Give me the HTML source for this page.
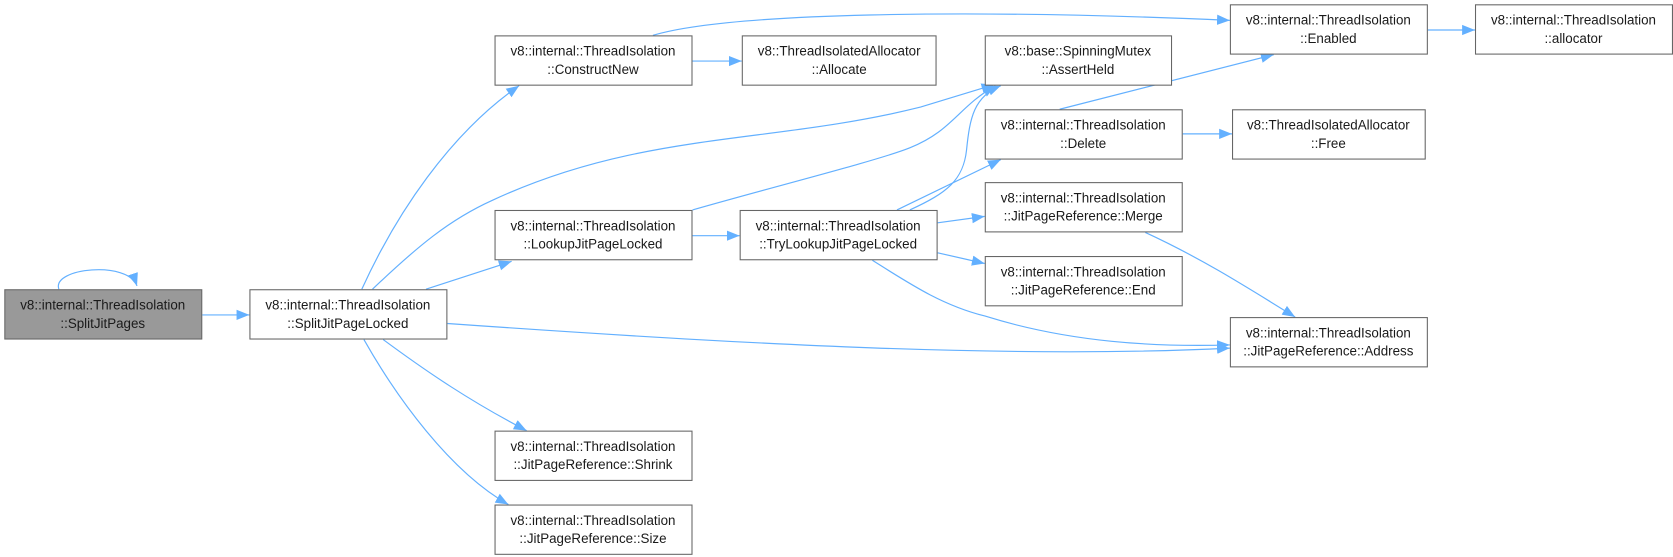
<!DOCTYPE html>
<html><head><meta charset="utf-8"><style>
html,body{margin:0;padding:0;background:#fff;}
svg{display:block;}
text{font-family:"Liberation Sans",sans-serif;font-size:12.5px;fill:#1a1a1a;text-anchor:middle;}
.b{fill:#fff;stroke:#666;stroke-width:1;}
.e{fill:none;stroke:#63b0ff;stroke-width:1.1;}
</style></head><body>
<svg width="1673" height="557" viewBox="0 0 1563 520" preserveAspectRatio="none">
<defs><marker id="a" viewBox="0 0 10 10" refX="10" refY="5" markerWidth="12" markerHeight="12" markerUnits="userSpaceOnUse" orient="auto"><path d="M0,1 L10,5 L0,9 z" fill="#63b0ff"/></marker></defs>
<g class="e" marker-end="url(#a)">
<path d="M55,270 C48,250 120,243 128,267"/>
<path d="M189,294 L233,294"/>
<path d="M338,270 C370,200 420,125 485,80"/>
<path d="M348,270 C390,230 420,205 460,187 C600,122 720,135 860,100 L929,79"/>
<path d="M398,270 L478,244"/>
<path d="M418,302 C700,322 950,335 1149,325"/>
<path d="M358,317 C400,348 440,375 492,402"/>
<path d="M340,317 C370,370 420,440 475,471"/>
<path d="M647,57 L693,57"/>
<path d="M610,33 C680,12 900,8 1149,19"/>
<path d="M1334,28 L1378,28"/>
<path d="M647,196 C720,175 820,150 850,138 C890,122 895,100 930,80"/>
<path d="M647,220 L691,220"/>
<path d="M850,196 C885,180 900,168 903,140 C906,110 910,90 935,80"/>
<path d="M838,196 L935,149"/>
<path d="M876,208 L920,202"/>
<path d="M876,236 L920,246"/>
<path d="M815,243 C850,265 880,285 920,295 C1000,320 1080,324 1149,322"/>
<path d="M990,102 L1190,51"/>
<path d="M1105,125 L1151,125"/>
<path d="M1070,217 C1120,240 1160,265 1210,296"/>
</g>
<rect x="4.5" y="270.5" width="184" height="46" fill="#999" stroke="#666"/>
<text x="96" y="289">v8::internal::ThreadIsolation</text><text x="96" y="306">::SplitJitPages</text>
<rect class="b" x="233.5" y="270.5" width="184" height="46"/>
<text x="325" y="289">v8::internal::ThreadIsolation</text><text x="325" y="306">::SplitJitPageLocked</text>
<rect class="b" x="462.5" y="33.5" width="184" height="46"/>
<text x="554" y="52">v8::internal::ThreadIsolation</text><text x="554" y="69">::ConstructNew</text>
<rect class="b" x="693.5" y="33.5" width="181" height="46"/>
<text x="784" y="52">v8::ThreadIsolatedAllocator</text><text x="784" y="69">::Allocate</text>
<rect class="b" x="1149.5" y="4.5" width="184" height="46"/>
<text x="1241" y="23">v8::internal::ThreadIsolation</text><text x="1241" y="40">::Enabled</text>
<rect class="b" x="1378.5" y="4.5" width="184" height="46"/>
<text x="1470" y="23">v8::internal::ThreadIsolation</text><text x="1470" y="40">::allocator</text>
<rect class="b" x="920.5" y="33.5" width="174" height="46"/>
<text x="1007" y="52">v8::base::SpinningMutex</text><text x="1007" y="69">::AssertHeld</text>
<rect class="b" x="920.5" y="102.5" width="184" height="46"/>
<text x="1012" y="121">v8::internal::ThreadIsolation</text><text x="1012" y="138">::Delete</text>
<rect class="b" x="1151.5" y="102.5" width="180" height="46"/>
<text x="1241" y="121">v8::ThreadIsolatedAllocator</text><text x="1241" y="138">::Free</text>
<rect class="b" x="462.5" y="196.5" width="184" height="46"/>
<text x="554" y="215">v8::internal::ThreadIsolation</text><text x="554" y="232">::LookupJitPageLocked</text>
<rect class="b" x="691.5" y="196.5" width="184" height="46"/>
<text x="783" y="215">v8::internal::ThreadIsolation</text><text x="783" y="232">::TryLookupJitPageLocked</text>
<rect class="b" x="920.5" y="170.5" width="184" height="46"/>
<text x="1012" y="189">v8::internal::ThreadIsolation</text><text x="1012" y="206">::JitPageReference::Merge</text>
<rect class="b" x="920.5" y="239.5" width="184" height="46"/>
<text x="1012" y="258">v8::internal::ThreadIsolation</text><text x="1012" y="275">::JitPageReference::End</text>
<rect class="b" x="1149.5" y="296.5" width="184" height="46"/>
<text x="1241" y="315">v8::internal::ThreadIsolation</text><text x="1241" y="332">::JitPageReference::Address</text>
<rect class="b" x="462.5" y="402.5" width="184" height="46"/>
<text x="554" y="421">v8::internal::ThreadIsolation</text><text x="554" y="438">::JitPageReference::Shrink</text>
<rect class="b" x="462.5" y="471.5" width="184" height="46"/>
<text x="554" y="490">v8::internal::ThreadIsolation</text><text x="554" y="507">::JitPageReference::Size</text>
</svg>
</body></html>
